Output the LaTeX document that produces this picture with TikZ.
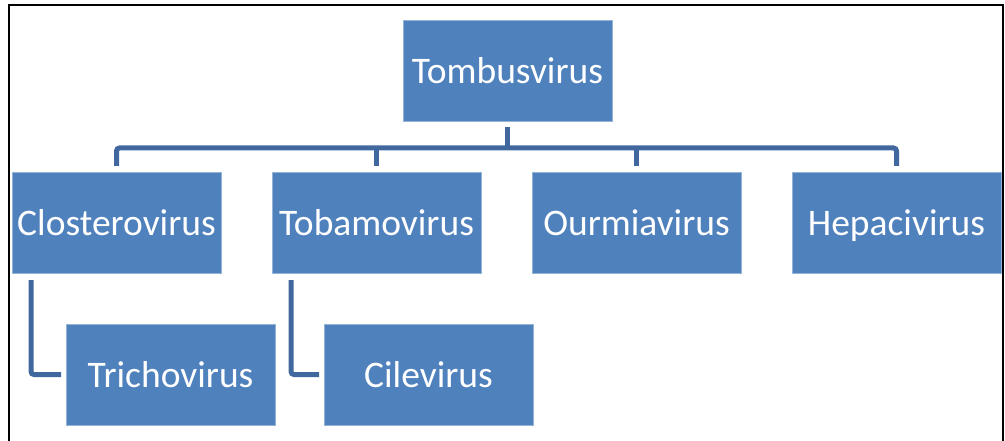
\documentclass[tikz,border=0pt]{standalone}
\usepackage{fontspec}
\setmainfont{Carlito}
\usetikzlibrary{positioning}
\definecolor{boxblue}{HTML}{4F81BD}
\definecolor{lineblue}{HTML}{41689E}

\begin{document}
\begin{tikzpicture}[
	x=1pt, y=1pt,
	node distance=51pt and 51pt,
	genusbox/.style={rectangle, fill=boxblue, draw=boxblue!60!white, line width=0.6pt,
		text=white, minimum width=209pt, minimum height=101pt,
		inner sep=0pt, outer sep=0pt, text height=30pt, text depth=4pt,
		font=\fontsize{37.5}{42}\selectfont},
	connector/.style={draw=lineblue, line width=5pt, rounded corners=3pt},
	frameline/.style={draw=black, line width=2pt}
	]
	\useasboundingbox (0,0) rectangle (1005,-441);
	
	% Frame
	\draw[frameline] (9,-445) -- (9,-5) -- (1003,-5) -- (1003,-445);
	
	% Row 1: Root
	\node[genusbox, anchor=north west] (tombus) at (403,-20) {Tombusvirus};
	
	% Row 2: Four genera
	\node[genusbox, anchor=north west] (closter) at (12,-172) {Closterovirus};
	\node[genusbox] (tobamo) [right=of closter] {Tobamovirus};
	\node[genusbox] (ourmia) [right=of tobamo] {Ourmiavirus};
	\node[genusbox] (hepaci) [right=of ourmia] {Hepacivirus};
	
	% Row 3: Children
	\node[genusbox] (tricho) [below=of closter.south west, anchor=north west, xshift=54pt] {Trichovirus};
	\node[genusbox] (cile) [below=of tobamo.south west, anchor=north west, xshift=52pt] {Cilevirus};
	
	% Connectors from root to row 2
	\coordinate (bus) at ([yshift=-27pt]tombus.south);
	\draw[connector] ([yshift=-6pt]tombus.south) -- (bus);
	\draw[connector] ([yshift=6pt]closter.north) |- (bus) -| ([yshift=6pt]hepaci.north);
	\draw[connector] ([yshift=6pt]tobamo.north) -- (tobamo.north |- bus);
	\draw[connector] ([yshift=6pt]ourmia.north) -- (ourmia.north |- bus);
	
	% Connectors from row 2 to row 3
	\draw[connector] ([xshift=19pt, yshift=-7pt]closter.south west) |- ([xshift=-5pt]tricho.west);
	\draw[connector] ([xshift=19pt, yshift=-7pt]tobamo.south west) |- ([xshift=-5pt]cile.west);
	
\end{tikzpicture}
\end{document}
